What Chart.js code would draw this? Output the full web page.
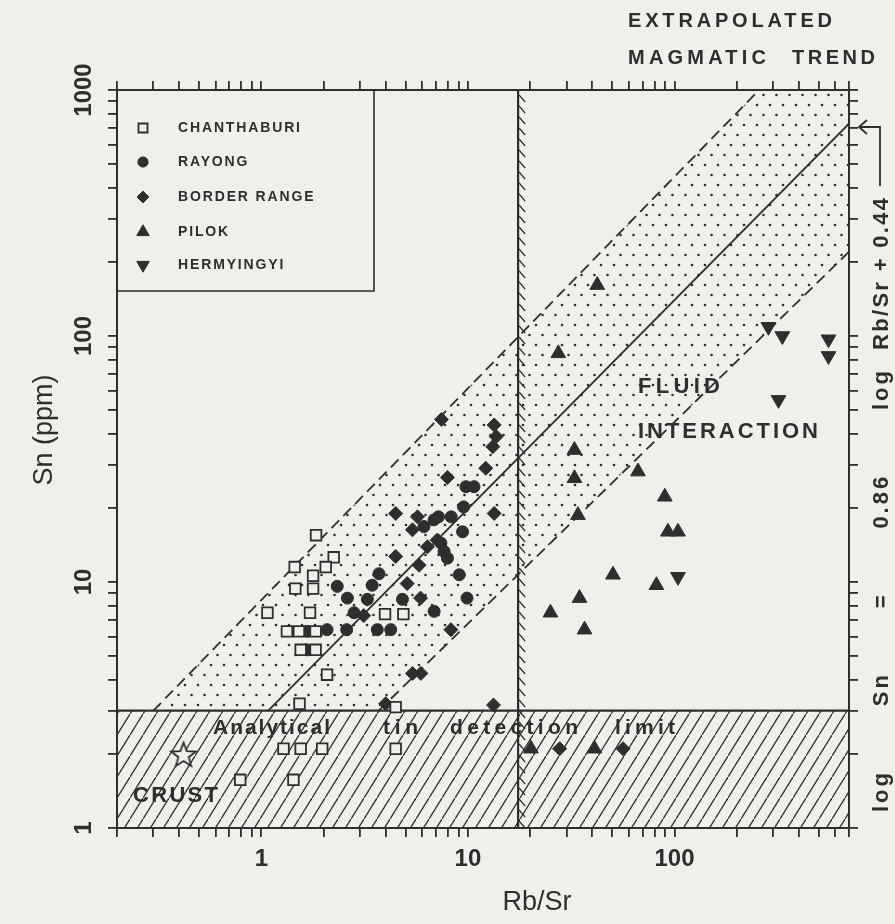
<!DOCTYPE html>
<html>
<head>
<meta charset="utf-8">
<title>Rb/Sr vs Sn</title>
<script src="https://cdn.jsdelivr.net/npm/chart.js@4.4.1/dist/chart.umd.min.js"></script>
<style>
  html, body { margin: 0; padding: 0; background: #efefec; }
  #wrap { width: 895px; height: 924px; }
</style>
</head>
<body>
<div id="wrap"><canvas id="snChart" width="895" height="924"></canvas></div>
<script>
const INK = '#2e2e2e';
const PAPER = '#efefec';
const FONT = '"Liberation Sans", Arial, Helvetica, sans-serif';

const seriesNames = ['CHANTHABURI', 'RAYONG', 'BORDER RANGE', 'PILOK', 'HERMYINGYI'];

// [Rb/Sr, Sn (ppm)]
const chanthaburi = [
    [1.84, 15.5], [1.45, 11.5], [2.24, 12.6], [2.05, 11.5], [1.78, 10.6], [1.46, 9.4], [1.78, 9.4],
    [1.07, 7.5], [1.72, 7.5], [1.33, 6.3], [1.52, 6.3], [1.83, 6.3], [1.55, 5.3], [1.83, 5.3],
    [2.08, 4.2], [1.53, 3.2], [3.97, 7.4], [4.87, 7.4], [4.47, 3.1],
    [1.28, 2.1], [1.55, 2.1], [1.97, 2.1], [4.47, 2.1], [0.79, 1.57], [1.43, 1.57]
];
const rayong = [
    [2.33, 9.6], [2.61, 8.6], [3.71, 10.8], [3.44, 9.7], [3.26, 8.5], [4.82, 8.5],
    [6.86, 17.9], [7.2, 18.4], [8.3, 18.4], [6.13, 16.8], [7.4, 14.4], [7.67, 13.3], [7.96, 12.5],
    [9.08, 10.7], [9.42, 16.0], [9.53, 20.2], [9.78, 24.4], [10.7, 24.4], [9.9, 8.6], [6.86, 7.6],
    [2.81, 7.5], [2.08, 6.4], [2.59, 6.4], [3.64, 6.4], [4.23, 6.4], [1.67, 6.3], [1.66, 5.3]
];
const borderRange = [
    [7.45, 45.8], [13.4, 43.5], [13.7, 39], [13.2, 35.5], [12.2, 29], [7.96, 26.6],
    [4.47, 19.0], [13.4, 19.0], [5.7, 18.4], [5.39, 16.3], [4.47, 12.7], [5.8, 11.7],
    [6.37, 13.9], [7.1, 14.8], [5.9, 8.6], [5.08, 9.85], [8.27, 6.4], [5.39, 4.25], [5.92, 4.25],
    [4.0, 3.2], [13.3, 3.16], [3.13, 7.3], [27.8, 2.1], [56.4, 2.1]
];
const pilok = [
    [42.3, 161], [27.4, 85], [32.8, 34.4], [32.8, 26.4], [34.1, 18.7], [66.6, 28.1], [89.8, 22.2],
    [93, 16], [104, 16], [50.4, 10.7], [81.8, 9.7], [34.7, 8.6], [25.1, 7.5], [36.7, 6.4],
    [20.2, 2.1], [41, 2.1]
];
const hermyingyi = [[285, 109], [333, 100], [557, 97], [557, 83], [319, 55], [104, 10.5]];
const crust = [[0.42, 2.0]];

// lines of the diagram
const trendLine = [[1.08, 3], [700, 730]];          // log Sn = 0.86 log Rb/Sr + 0.44
const upperDashed = [[0.3, 3], [257, 1000]];
const lowerDashed = [[3.7, 3], [700, 220]];
const detectionLimit = [[0.2, 3], [700, 3]];
const boundaryRbSr = [[17.5, 1], [17.5, 1000]];
const stippleTop = [[0.3, 3], [257, 1000], [700, 1000]];
const stippleBottom = [[0.3, 3], [3.7, 3], [700, 220]];

const xTickValues = [0.2, 0.3, 0.4, 0.5, 0.6, 0.7, 0.8, 0.9, 1, 2, 3, 4, 5, 6, 7, 8, 9,
    10, 20, 30, 40, 50, 60, 70, 80, 90, 100, 200, 300, 400, 500, 600, 700];
const yTickValues = [1, 2, 3, 4, 5, 6, 7, 8, 9, 10, 20, 30, 40, 50, 60, 70, 80, 90,
    100, 200, 300, 400, 500, 600, 700, 800, 900, 1000];
const xTickLabels = ['1', '10', '100'];
const yTickLabels = ['1', '10', '100', '1000'];

const canvas = document.getElementById('snChart');
const ctx = canvas.getContext('2d');

function makeStipple() {
    const c = document.createElement('canvas');
    c.width = 13; c.height = 20;
    const g = c.getContext('2d');
    g.fillStyle = INK;
    [[3, 5], [9.5, 15]].forEach(([x, y]) => {
        g.beginPath();
        g.arc(x, y, 1.3, 0, Math.PI * 2);
        g.fill();
    });
    return ctx.createPattern(c, 'repeat');
}

function makeHatch() {
    const w = 13, h = 21;
    const c = document.createElement('canvas');
    c.width = w; c.height = h;
    const g = c.getContext('2d');
    g.strokeStyle = INK;
    g.lineWidth = 1.3;
    g.beginPath();
    g.moveTo(-w, 2 * h);
    g.lineTo(2 * w, -h);
    g.stroke();
    return ctx.createPattern(c, 'repeat');
}

function makeStar(size) {
    const c = document.createElement('canvas');
    c.width = size; c.height = size;
    const g = c.getContext('2d');
    const cx = size / 2, cy = size / 2 + 1.5, R = size / 2 - 2, r = R * 0.42;
    g.beginPath();
    for (let i = 0; i < 10; i++) {
        const a = -Math.PI / 2 + i * Math.PI / 5;
        const rr = i % 2 ? r : R;
        g.lineTo(cx + rr * Math.cos(a), cy + rr * Math.sin(a));
    }
    g.closePath();
    g.fillStyle = PAPER;
    g.fill();
    g.strokeStyle = INK;
    g.lineWidth = 1.8;
    g.stroke();
    return c;
}

const pts = arr => arr.map(([x, y]) => ({ x, y }));

const tickFont = { family: FONT, size: 24, weight: 'bold' };
ctx.font = `bold 24px ${FONT}`;
const widestY = ctx.measureText('1000').width;
const yLabelPad = 117 - 9 - 84 - widestY / 2;

const tickGrid = { drawOnChartArea: false, drawTicks: true, tickLength: 9, color: INK, lineWidth: 1.8 };
const frame = { display: true, color: INK, width: 2 };

function setTicks(values) {
    return scale => { scale.ticks = values.map(value => ({ value })); };
}

function fitText(c, text, x, y, width) {
    c.letterSpacing = '0px';
    const w0 = c.measureText(text).width;
    const n = [...text].length;
    const ls = n > 1 ? (width - w0) / (n - 1) : 0;
    c.letterSpacing = ls + 'px';
    c.fillText(text, x, y);
    c.letterSpacing = '0px';
}

const pointDefs = [
    { pointStyle: 'rect', radius: 7.5, hollow: true },
    { pointStyle: 'circle', radius: 6 },
    { pointStyle: 'rectRot', radius: 7 },
    { pointStyle: 'triangle', radius: 8.5 },
    { pointStyle: 'triangle', radius: 8.5, rotation: 180 }
];

const annotations = {
    id: 'annotations',
    afterDraw(chart) {
        const c = chart.ctx;
        const area = chart.chartArea;
        c.save();
        c.fillStyle = INK;
        c.strokeStyle = INK;

        // hatching on the right side of the Rb/Sr boundary
        const xb = chart.scales.x.getPixelForValue(boundaryRbSr[0][0]);
        c.lineWidth = 1.2;
        c.beginPath();
        for (let y = area.top + 5; y < area.bottom - 4; y += 11) {
            c.moveTo(xb + 1, y);
            c.lineTo(xb + 7, y + 7);
        }
        c.stroke();

        // legend box
        c.lineWidth = 1.6;
        c.beginPath();
        c.moveTo(374, area.top);
        c.lineTo(374, 291);
        c.lineTo(area.left, 291);
        c.stroke();
        c.font = `bold 14px ${FONT}`;
        c.textBaseline = 'middle';
        c.textAlign = 'left';
        c.letterSpacing = '0px';
        const ls = (122 - c.measureText(seriesNames[0]).width) / (seriesNames[0].length - 1);
        const rows = [128, 162, 197, 232, 265];
        seriesNames.forEach((name, i) => {
            const d = pointDefs[i];
            c.fillStyle = d.hollow ? PAPER : INK;
            c.strokeStyle = INK;
            c.lineWidth = d.hollow ? 1.8 : 1;
            Chart.helpers.drawPoint(c, {
                pointStyle: d.pointStyle, radius: d.radius * 0.85,
                rotation: d.rotation || 0, borderWidth: c.lineWidth
            }, 143, rows[i]);
            c.fillStyle = INK;
            c.letterSpacing = ls + 'px';
            c.fillText(name, 178, rows[i]);
            c.letterSpacing = '0px';
        });

        // titles in the plot
        c.font = `bold 20px ${FONT}`;
        fitText(c, 'EXTRAPOLATED', 628, 21, 204);
        fitText(c, 'MAGMATIC', 628, 58, 138);
        fitText(c, 'TREND', 792, 58, 83);
        c.font = `bold 22px ${FONT}`;
        fitText(c, 'FLUID', 638, 387, 82);
        fitText(c, 'INTERACTION', 638, 432, 180);
        c.font = `bold 21px ${FONT}`;
        fitText(c, 'Analytical', 213, 728, 117);
        fitText(c, 'tin', 383, 728, 35);
        fitText(c, 'detection', 450, 728, 128);
        fitText(c, 'limit', 615, 728, 60);
        c.font = `bold 22px ${FONT}`;
        fitText(c, 'CRUST', 133, 796, 85);

        // trend equation along the right edge
        c.lineWidth = 1.8;
        c.beginPath();
        c.moveTo(880, 186);
        c.lineTo(880, 127);
        c.lineTo(859, 127);
        c.moveTo(867, 120);
        c.lineTo(859, 127);
        c.lineTo(867, 134);
        c.stroke();
        c.save();
        c.translate(882, 0);
        c.rotate(-Math.PI / 2);
        c.font = `bold 22px ${FONT}`;
        c.textBaseline = 'middle';
        fitText(c, 'Rb/Sr + 0.44', -350, 0, 152);
        const words = ['log', 'Sn', '=', '0.86', 'log'];
        c.letterSpacing = '3px';
        const widths = words.map(w => c.measureText(w).width);
        const gap = (812 - 368 - widths.reduce((a, b) => a + b, 0)) / (words.length - 1);
        let u = -812;
        words.forEach((w, i) => {
            c.fillText(w, u, 0);
            u += widths[i] + gap;
        });
        c.letterSpacing = '0px';
        c.restore();

        // axis titles
        c.font = `27px ${FONT}`;
        c.textAlign = 'center';
        c.textBaseline = 'middle';
        c.fillText('Rb/Sr', 537, 903);
        c.save();
        c.translate(45, 430);
        c.rotate(-Math.PI / 2);
        c.fillText('Sn (ppm)', 0, 0);
        c.restore();

        c.restore();
    }
};

const stipple = makeStipple();
const hatch = makeHatch();
const starImg = makeStar(30);

const lineDefaults = { showLine: true, pointRadius: 0, borderColor: INK, fill: false };

new Chart(ctx, {
    type: 'scatter',
    data: {
        datasets: [
            { label: 'Crust', data: pts(crust), pointStyle: starImg, pointRadius: 14 },
            {
                label: seriesNames[0], data: pts(chanthaburi), pointStyle: 'rect', pointRadius: 7.5,
                pointBackgroundColor: PAPER, pointBorderColor: INK, pointBorderWidth: 1.8
            },
            {
                label: seriesNames[1], data: pts(rayong), pointStyle: 'circle', pointRadius: 6,
                pointBackgroundColor: INK, pointBorderColor: INK, pointBorderWidth: 1
            },
            {
                label: seriesNames[2], data: pts(borderRange), pointStyle: 'rectRot', pointRadius: 7,
                pointBackgroundColor: INK, pointBorderColor: INK, pointBorderWidth: 1
            },
            {
                label: seriesNames[3], data: pts(pilok), pointStyle: 'triangle', pointRadius: 8.5,
                pointBackgroundColor: INK, pointBorderColor: INK, pointBorderWidth: 1
            },
            {
                label: seriesNames[4], data: pts(hermyingyi), pointStyle: 'triangle', pointRadius: 8.5,
                pointRotation: 180, pointBackgroundColor: INK, pointBorderColor: INK, pointBorderWidth: 1
            },
            { ...lineDefaults, label: 'trend', data: pts(trendLine), borderWidth: 1.8 },
            { ...lineDefaults, label: 'upper', data: pts(upperDashed), borderWidth: 1.8, borderDash: [11, 6] },
            { ...lineDefaults, label: 'lower', data: pts(lowerDashed), borderWidth: 1.8, borderDash: [11, 6] },
            {
                ...lineDefaults, label: 'detection limit', data: pts(detectionLimit), borderWidth: 2.2,
                fill: 'start', backgroundColor: hatch
            },
            { ...lineDefaults, label: 'boundary', data: pts(boundaryRbSr), borderWidth: 2.2 },
            {
                ...lineDefaults, label: 'stipple top', data: pts(stippleTop), borderWidth: 0,
                fill: '+1', backgroundColor: stipple
            },
            { ...lineDefaults, label: 'stipple bottom', data: pts(stippleBottom), borderWidth: 0 }
        ]
    },
    options: {
        responsive: false,
        animation: false,
        devicePixelRatio: 1,
        layout: { padding: 0 },
        plugins: {
            legend: { display: false },
            tooltip: { enabled: false }
        },
        scales: {
            x: {
                type: 'logarithmic', position: 'bottom', min: 0.2, max: 700,
                afterBuildTicks: setTicks(xTickValues),
                afterFit: s => { s.height = 96; },
                grid: tickGrid, border: frame,
                ticks: {
                    autoSkip: false, maxRotation: 0, padding: 8, color: INK, font: tickFont,
                    callback: v => xTickLabels.includes(String(v)) ? String(v) : ''
                }
            },
            xTop: {
                type: 'logarithmic', axis: 'x', position: 'top', min: 0.2, max: 700,
                afterBuildTicks: setTicks(xTickValues),
                afterFit: s => { s.height = 90; },
                grid: tickGrid, border: frame,
                ticks: { display: false }
            },
            y: {
                type: 'logarithmic', position: 'left', min: 1, max: 1000,
                afterBuildTicks: setTicks(yTickValues),
                afterFit: s => { s.width = 117; },
                grid: tickGrid, border: frame,
                ticks: {
                    autoSkip: false, minRotation: 90, maxRotation: 90, crossAlign: 'center',
                    padding: yLabelPad, color: INK, font: tickFont,
                    callback: v => yTickLabels.includes(String(v)) ? String(v) : ''
                }
            },
            yRight: {
                type: 'logarithmic', axis: 'y', position: 'right', min: 1, max: 1000,
                afterBuildTicks: setTicks(yTickValues),
                afterFit: s => { s.width = 46; },
                grid: tickGrid, border: frame,
                ticks: { display: false }
            }
        }
    },
    plugins: [annotations]
});
</script>
</body>
</html>
